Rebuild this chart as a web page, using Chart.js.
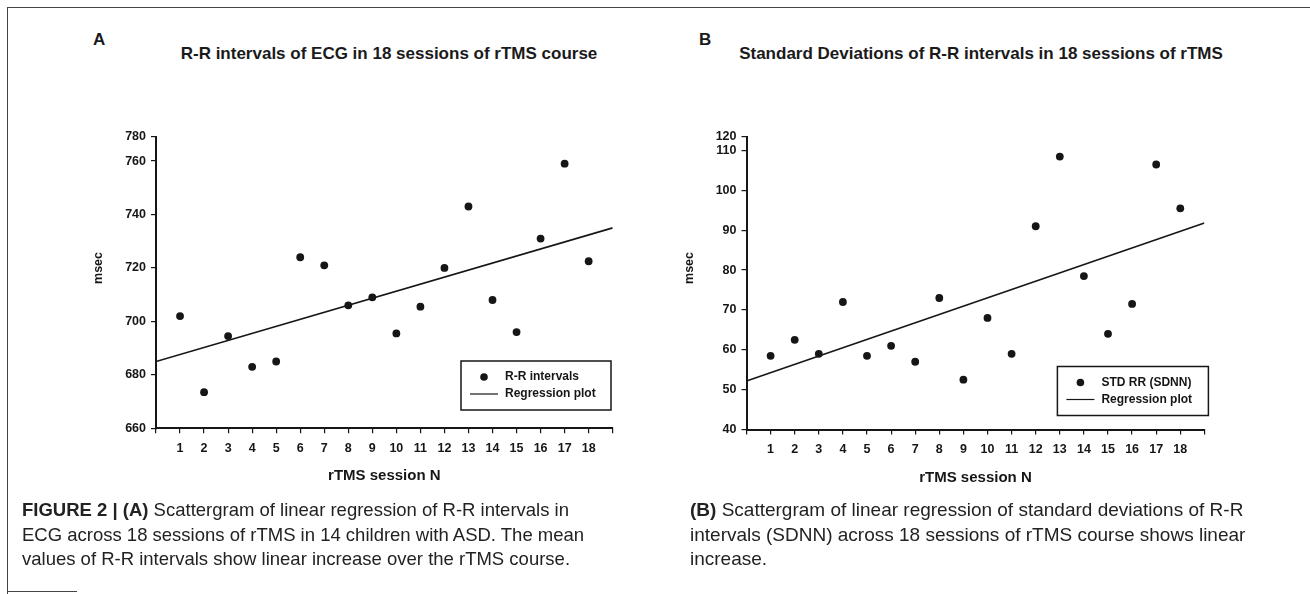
<!DOCTYPE html>
<html>
<head>
<meta charset="utf-8">
<script src="https://cdn.jsdelivr.net/npm/chart.js@4.4.1/dist/chart.umd.min.js"></script>
<style>
  body { margin: 0; background: #fff; }
  #page { position: relative; width: 1310px; height: 594px; overflow: hidden; font-family: "Liberation Sans", Arial, sans-serif; color: #1a1a1a; }
  .rule { position: absolute; background: #444; }
  .panel { position: absolute; font-weight: bold; font-size: 17px; }
  .title { position: absolute; font-weight: bold; font-size: 17px; white-space: nowrap; transform: translateX(-50%); }
  .box { position: absolute; }
  .caption { position: absolute; font-size: 18.5px; line-height: 24.5px; color: #222; white-space: nowrap; }
</style>
</head>
<body>
<div id="page">
  <div class="rule" style="left:7px;top:7px;width:1303px;height:1px"></div>
  <div class="rule" style="left:7px;top:7px;width:1px;height:587px"></div>
  <div class="rule" style="left:7px;top:591px;width:70px;height:1px"></div>

  <div class="panel" style="left:93px;top:30px">A</div>
  <div class="title" style="left:389px;top:44px">R-R intervals of ECG in 18 sessions of rTMS course</div>
  <div class="box" style="left:40px;top:100px"><canvas id="chartA" width="600" height="400"></canvas></div>

  <div class="panel" style="left:699px;top:30px">B</div>
  <div class="title" style="left:981px;top:44px">Standard Deviations of R-R intervals in 18 sessions of rTMS</div>
  <div class="box" style="left:640px;top:100px"><canvas id="chartB" width="600" height="400"></canvas></div>

  <div class="caption" style="left:22px;top:498px"><b>FIGURE 2 | (A)</b> Scattergram of linear regression of R-R intervals in<br>ECG across 18 sessions of rTMS in 14 children with ASD. The mean<br>values of R-R intervals show linear increase over the rTMS course.</div>
  <div class="caption" style="left:690px;top:498px;font-size:19px"><b>(B)</b> Scattergram of linear regression of standard deviations of R-R<br>intervals (SDNN) across 18 sessions of rTMS course shows linear<br>increase.</div>
</div>

<script>
// values
const sessions = [1, 2, 3, 4, 5, 6, 7, 8, 9, 10, 11, 12, 13, 14, 15, 16, 17, 18];
const rrIntervals = [702, 673.5, 694.5, 683, 685, 724, 721, 706, 709, 695.5, 705.5, 720, 743, 708, 696, 731, 759, 722.5];
const sdnnValues = [58.5, 62.5, 59, 72, 58.5, 61, 57, 73, 52.5, 68, 59, 91, 108.5, 78.5, 64, 71.5, 106.5, 95.5];

// regression lines, ends read at the axis origin and at the axis end
const regX = [0, 19];
const regA = [685, 735];
const regB = [52.2, 91.8];

// tick labels; the top label sits at the (cropped) end of the axis
const xTickLabels = ['1', '2', '3', '4', '5', '6', '7', '8', '9', '10', '11', '12', '13', '14', '15', '16', '17', '18'];
const yTicksA = [660, 680, 700, 720, 740, 760, 780];
const yTicksB = [40, 50, 60, 70, 80, 90, 100, 110, 120];
const yTopA = 769;
const yTopB = 113.4;

const ink = '#161616';
const tickFont = { family: '"Liberation Sans", Arial, sans-serif', size: 12.5, weight: 'bold' };

// legend drawn as a framed box inside the plot, plus the rotated "msec" label
const boxLegend = {
  id: 'boxLegend',
  afterDraw(chart, args, o) {
    const ctx = chart.ctx, a = chart.chartArea;
    const ds = chart.data.datasets;
    const x = a.right - o.right - o.w, y = a.bottom - o.bottom - o.h;
    ctx.save();
    ctx.fillStyle = '#fff';
    ctx.fillRect(x, y, o.w, o.h);
    ctx.strokeStyle = ink;
    ctx.lineWidth = 1.5;
    ctx.strokeRect(x, y, o.w, o.h);
    ctx.fillStyle = ink;
    ctx.font = 'bold 12px "Liberation Sans", Arial, sans-serif';
    ctx.textBaseline = 'middle';
    ctx.beginPath();
    ctx.arc(x + 23, y + 16, 3.8, 0, Math.PI * 2);
    ctx.fill();
    ctx.fillText(ds[0].label, x + 44, y + 16);
    ctx.beginPath();
    ctx.lineWidth = 1.2;
    ctx.moveTo(x + 9, y + 33);
    ctx.lineTo(x + 37, y + 33);
    ctx.stroke();
    ctx.fillText(ds[1].label, x + 44, y + 33);

    // y axis label
    ctx.translate(a.left - 57, a.top + 131);
    ctx.rotate(-Math.PI / 2);
    ctx.textAlign = 'center';
    ctx.font = 'bold 12.5px "Liberation Sans", Arial, sans-serif';
    ctx.fillText('msec', 0, 0);
    ctx.restore();
  }
};

function makeChart(id, values, reg, label, yTicks, yMin, yTop, pad, yWidth, legendPos) {
  const ctx = document.getElementById(id).getContext('2d');
  return new Chart(ctx, {
    type: 'scatter',
    data: {
      datasets: [{
        label: label,
        data: sessions.map((s, i) => ({ x: s, y: values[i] })),
        backgroundColor: ink,
        borderWidth: 0,
        pointRadius: 3.9,
        pointHoverRadius: 3.9
      }, {
        type: 'line',
        label: 'Regression plot',
        data: regX.map((x, i) => ({ x: x, y: reg[i] })),
        borderColor: ink,
        borderWidth: 1.6,
        pointRadius: 0,
        fill: false
      }]
    },
    options: {
      responsive: false,
      animation: false,
      layout: { padding: pad },
      plugins: {
        legend: { display: false },
        tooltip: { enabled: false },
        boxLegend: legendPos
      },
      scales: {
        x: {
          type: 'linear',
          min: 0,
          max: 19,
          afterFit: s => { s.height = 60; },
          border: { color: ink, width: 2 },
          grid: { drawOnChartArea: false, color: ink, lineWidth: 1.2, tickLength: 5 },
          ticks: {
            stepSize: 1,
            autoSkip: false,
            maxRotation: 0,
            padding: 8,
            color: ink,
            font: tickFont,
            callback: v => (v >= 1 && v <= 18) ? xTickLabels[v - 1] : ''
          },
          title: {
            display: true,
            text: 'rTMS session N',
            color: ink,
            font: { family: '"Liberation Sans", Arial, sans-serif', size: 15, weight: 'bold' },
            padding: { top: 0, bottom: 3 }
          }
        },
        y: {
          min: yMin,
          max: yTop,
          afterFit: s => { s.width = yWidth; },
          afterBuildTicks: s => { s.ticks = yTicks.map(v => ({ value: Math.min(v, yTop) })); },
          border: { color: ink, width: 2 },
          grid: { drawOnChartArea: false, color: ink, lineWidth: 1.2, tickLength: 5 },
          ticks: {
            padding: 5,
            color: ink,
            font: tickFont,
            callback: (v, i) => yTicks[i]
          }
        }
      }
    },
    plugins: [boxLegend]
  });
}

makeChart('chartA', rrIntervals, regA, 'R-R intervals', yTicksA, 660, yTopA,
  { left: 20, right: 27.3, top: 37, bottom: 11.7 }, 96,
  { w: 150, h: 49, right: 1.7, bottom: 18.3 });

makeChart('chartB', sdnnValues, regB, 'STD RR (SDNN)', yTicksB, 40, yTopB,
  { left: 20, right: 35.6, top: 37, bottom: 10.5 }, 86.5,
  { w: 151, h: 49, right: -4, bottom: 14 });
</script>
</body>
</html>
